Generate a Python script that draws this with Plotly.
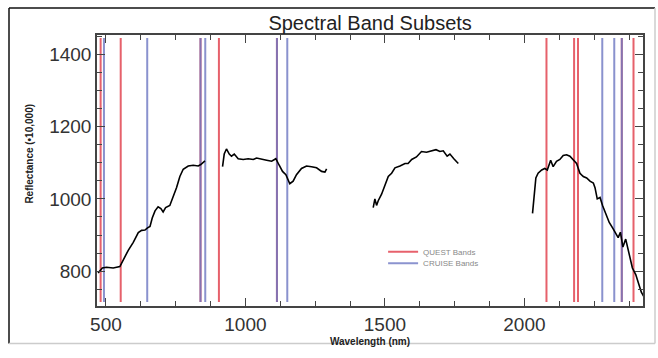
import plotly.graph_objects as go

# Spectrum segments (wavelength nm, reflectance *10,000)
seg1_w = [472, 487, 502, 526, 550, 562, 580, 598, 616, 628, 640, 649, 658, 666, 676, 687, 697, 705, 714, 729, 741, 753, 765, 777, 795, 813, 831, 840, 855]
seg1_r = [795, 809, 811, 809, 813, 831, 858, 880, 907, 913, 914, 920, 924, 947, 967, 978, 973, 964, 976, 982, 1004, 1031, 1062, 1082, 1091, 1093, 1091, 1095, 1105]
seg2_w = [918, 924, 932, 942, 950, 960, 974, 992, 1010, 1028, 1040, 1058, 1076, 1094, 1109, 1121, 1133, 1145, 1159, 1171, 1183, 1201, 1219, 1237, 1255, 1273, 1285, 1291]
seg2_r = [1089, 1124, 1138, 1124, 1118, 1124, 1111, 1109, 1111, 1109, 1113, 1111, 1107, 1104, 1111, 1093, 1076, 1067, 1042, 1049, 1067, 1084, 1091, 1089, 1086, 1076, 1074, 1083]
seg3_w = [1458, 1464, 1470, 1476, 1488, 1500, 1512, 1524, 1536, 1554, 1572, 1583, 1596, 1613, 1631, 1649, 1667, 1683, 1697, 1709, 1723, 1733, 1747, 1763]
seg3_r = [976, 1000, 982, 995, 1013, 1040, 1062, 1071, 1086, 1091, 1098, 1098, 1109, 1116, 1131, 1129, 1133, 1136, 1131, 1133, 1118, 1124, 1111, 1098]
seg4_w = [2029, 2034, 2041, 2049, 2062, 2073, 2082, 2094, 2103, 2115, 2127, 2139, 2151, 2163, 2175, 2187, 2199, 2211, 2223, 2235, 2247, 2253, 2261, 2271, 2280, 2292, 2304, 2316, 2328, 2336, 2344, 2353, 2363, 2375, 2387, 2399, 2411, 2419, 2428]
seg4_r = [960, 1004, 1058, 1071, 1080, 1084, 1080, 1107, 1089, 1104, 1109, 1120, 1122, 1118, 1107, 1098, 1071, 1062, 1058, 1049, 1044, 1031, 1000, 1004, 982, 960, 935, 920, 902, 893, 908, 867, 889, 849, 809, 791, 764, 742, 730]

# Band centres (nm)
quest_bands = [481, 553, 839, 905, 1113, 2079, 2178, 2192, 2349, 2391]
cruise_bands = [493, 648, 839, 856, 1113, 1150, 2279, 2322, 2349]
band_lo, band_hi = 715, 1445

x_tick_vals = [500, 1000, 1500, 2000]
y_tick_vals = [800, 1000, 1200, 1400]


def join(segs_w, segs_r):
    xs, ys = [], []
    for w, r in zip(segs_w, segs_r):
        xs += w + [None]
        ys += r + [None]
    return xs, ys


def band_lines(bands):
    xs, ys = [], []
    for b in bands:
        xs += [b, b, None]
        ys += [band_lo, band_hi, None]
    return xs, ys


fig = go.Figure()
qx, qy = band_lines(quest_bands)
cx, cy = band_lines(cruise_bands)
fig.add_trace(go.Scatter(x=qx, y=qy, mode="lines", name="QUEST Bands", legend="legend",
                         line=dict(color="rgb(228,80,92)", width=2), opacity=0.9))
fig.add_trace(go.Scatter(x=cx, y=cy, mode="lines", name="CRUISE Bands", legend="legend2",
                         line=dict(color="rgb(110,120,195)", width=2), opacity=0.8))
sx, sy = join([seg1_w, seg2_w, seg3_w, seg4_w], [seg1_r, seg2_r, seg3_r, seg4_r])
fig.add_trace(go.Scatter(x=sx, y=sy, mode="lines", showlegend=False,
                         line=dict(color="black", width=1.6), connectgaps=False))

axis_common = dict(showline=True, linecolor="#444", linewidth=1.5, mirror="ticks",
                   ticks="inside", tickcolor="#444", ticklen=8, tickwidth=1.2,
                   showgrid=False, zeroline=False,
                   tickfont=dict(family="Liberation Sans, Arial", size=19, color="#333"))

fig.update_xaxes(range=[468, 2425], tickvals=x_tick_vals,
                 minor=dict(dtick=125, tick0=500, ticks="inside", ticklen=5, tickcolor="#444"),
                 title=dict(text="<b>Wavelength (nm)</b>", standoff=4,
                            font=dict(family="Liberation Sans, Arial", size=10, color="#222")),
                 **axis_common)
fig.update_yaxes(range=[704, 1453], tickvals=y_tick_vals,
                 minor=dict(dtick=50, tick0=800, ticks="inside", ticklen=5, tickcolor="#444"),
                 **axis_common)

# outer frame (left/top dark, right/bottom light)
L, R = (9 - 97) / 546, (655 - 97) / 546
B, T = (316 - 355) / 281, (316 - 7) / 281
shapes = [
    dict(type="line", xref="paper", yref="paper", x0=L, x1=R, y0=T, y1=T, line=dict(color="#111", width=1.5)),
    dict(type="line", xref="paper", yref="paper", x0=L, x1=L, y0=B, y1=T, line=dict(color="#111", width=1.5)),
    dict(type="line", xref="paper", yref="paper", x0=L, x1=R, y0=B, y1=B, line=dict(color="#ccc", width=1.5)),
    dict(type="line", xref="paper", yref="paper", x0=R, x1=R, y0=B, y1=T, line=dict(color="#ccc", width=1.5)),
]

leg_common = dict(xanchor="left", yanchor="middle",
                  font=dict(family="Liberation Sans, Arial", size=8, color="#888"),
                  itemwidth=30, bgcolor="rgba(0,0,0,0)", borderwidth=0)

fig.update_layout(
    width=658, height=358,
    margin=dict(l=97, r=15, t=35, b=42),
    paper_bgcolor="white", plot_bgcolor="white",
    title=dict(text="Spectral Band Subsets", x=0.5625, xanchor="center", y=0.935, yanchor="middle",
               font=dict(family="Liberation Sans, Arial", size=20, color="#222")),
    legend=dict(x=0.524, y=0.2, **leg_common),
    legend2=dict(x=0.524, y=0.158, **leg_common),
    shapes=shapes,
    annotations=[dict(text="<b>Reflectance (•10,000)</b>", textangle=-90, xref="paper", yref="paper",
                      x=(30 - 97) / 546, y=(316 - 158) / 281, xanchor="center", yanchor="middle",
                      showarrow=False,
                      font=dict(family="Liberation Sans, Arial", size=10, color="#222"))],
)

fig.write_html("out.html")
